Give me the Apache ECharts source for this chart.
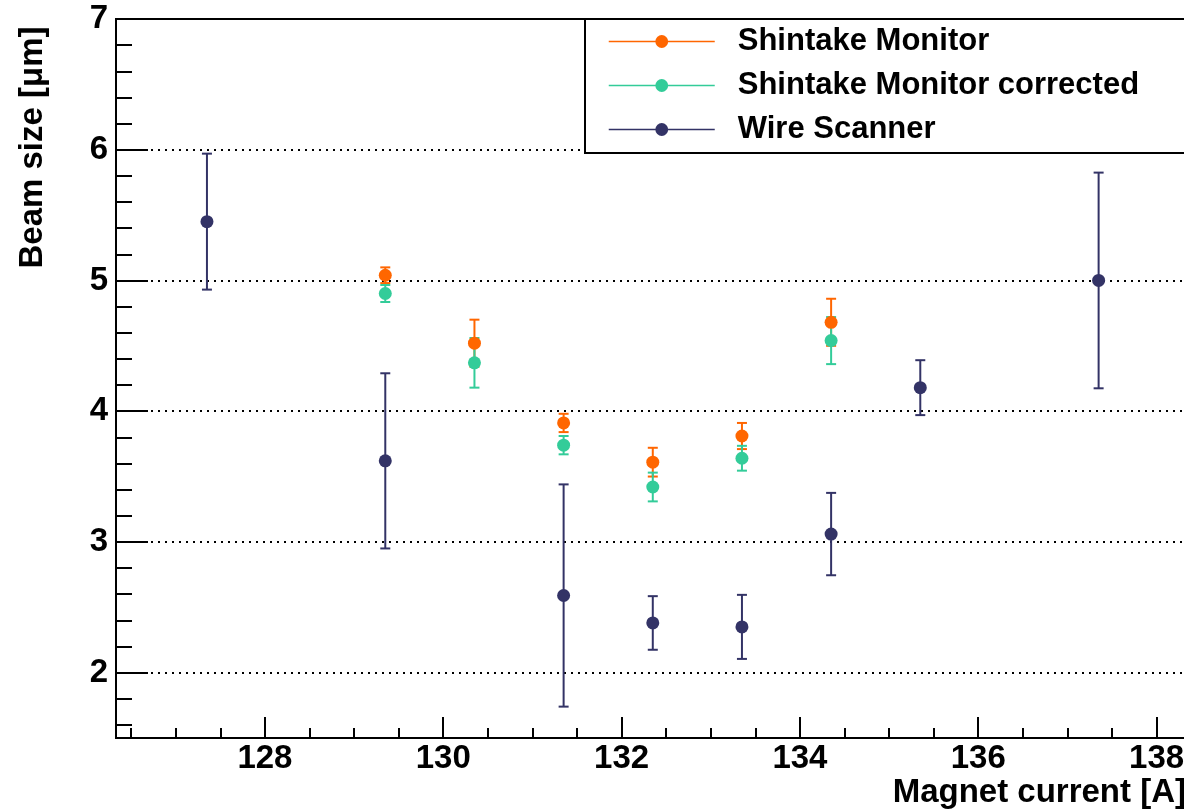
<!DOCTYPE html>
<html>
<head>
<meta charset="utf-8">
<script src="https://cdn.jsdelivr.net/npm/echarts@6/dist/echarts.min.js"></script>
<style>html,body{margin:0;padding:0;background:#fff}#chart{width:1184px;height:810px}</style>
</head>
<body>
<div id="chart"></div>
<script>
// Shintake Monitor
var smX = [129.35, 130.35, 131.35, 132.35, 133.35, 134.35];
var smY = [5.04, 4.52, 3.91, 3.61, 3.81, 4.68];
var smErr = [0.06, 0.18, 0.07, 0.11, 0.10, 0.18];
// Shintake Monitor corrected
var smcY = [4.90, 4.37, 3.74, 3.42, 3.64, 4.54];
var smcErr = [0.065, 0.19, 0.07, 0.11, 0.095, 0.18];
// Wire Scanner
var wsX = [127.35, 129.35, 131.35, 132.35, 133.35, 134.35, 135.35, 137.35];
var wsY = [5.45, 3.62, 2.59, 2.38, 2.35, 3.06, 4.18, 5.00];
var wsErr = [0.52, 0.67, 0.85, 0.205, 0.245, 0.315, 0.21, 0.825];
// ticks
var xMajor = [128, 130, 132, 134, 136, 138];
var yMajor = [2, 3, 4, 5, 6, 7];

var xMinor = [];
for (var i = 1; i <= 23; i++) {
  var v = 126 + i * 0.5;
  if (xMajor.indexOf(v) < 0) xMinor.push(v);
}
var yMinor = [];
for (var j = 8; j <= 34; j++) {
  var w = Math.round(j * 2) / 10;
  if (yMajor.indexOf(w) < 0) yMinor.push(w);
}

var FONT = 'Liberation Sans, Arial, sans-serif';
var cOrange = '#ff6600', cGreen = '#33cc99', cNavy = '#333366';

function pts(xs, ys) { return xs.map(function (x, k) { return [x, ys[k]]; }); }
function errs(xs, ys, es) { return xs.map(function (x, k) { return [x, ys[k], es[k]]; }); }

function errorBars(name, data, color) {
  return {
    type: 'custom', name: name, data: data, silent: true,
    encode: {x: 0, y: 1},
    renderItem: function (params, api) {
      var x = api.value(0), y = api.value(1), e = api.value(2);
      var top = api.coord([x, y + e]);
      var bot = api.coord([x, y - e]);
      var st = {stroke: color, lineWidth: 2};
      return {
        type: 'group',
        children: [
          {type: 'line', shape: {x1: top[0], y1: top[1], x2: bot[0], y2: bot[1]}, style: st},
          {type: 'line', shape: {x1: top[0] - 5, y1: top[1], x2: top[0] + 5, y2: top[1]}, style: st},
          {type: 'line', shape: {x1: bot[0] - 5, y1: bot[1], x2: bot[0] + 5, y2: bot[1]}, style: st}
        ]
      };
    }
  };
}
function markers(name, data, color) {
  return {
    type: 'line', name: name, data: data,
    symbol: 'circle', symbolSize: 13, showSymbol: true,
    itemStyle: {color: color},
    lineStyle: {color: color, opacity: 0},
    emphasis: {disabled: true}
  };
}

var chart = echarts.init(document.getElementById('chart'));
var option = {
  animation: false,
  backgroundColor: '#fff',
  textStyle: {fontFamily: FONT},
  grid: {left: 116, right: -2, top: 19, bottom: 72, show: true, borderColor: '#000', borderWidth: 2,
         outerBoundsMode: 'none', containLabel: false},
  legend: {
    orient: 'vertical', left: 585, top: 19,
    data: ['Shintake Monitor', 'Shintake Monitor corrected', 'Wire Scanner'],
    itemWidth: 106, itemHeight: 16, itemGap: 13,
    padding: [7, 300, 8, 23],
    backgroundColor: '#fff', borderColor: '#000', borderWidth: 2,
    lineStyle: {opacity: 1, width: 1.5},
    textStyle: {fontFamily: FONT, fontWeight: 'bold', fontSize: 31, color: '#000', padding: [0, 0, 0, 18]}
  },
  xAxis: [{
    type: 'value', min: 126.33, max: 138.33, position: 'bottom',
    name: 'Magnet current [A]', nameLocation: 'end', nameGap: 0, nameMoveOverlap: false,
    nameTextStyle: {fontFamily: FONT, fontWeight: 'bold', fontSize: 33, color: '#000',
                    align: 'right', verticalAlign: 'top', padding: [38, 0, 0, 0]},
    axisLine: {lineStyle: {color: '#000', width: 2}},
    axisTick: {inside: true, length: 21, lineStyle: {color: '#000', width: 2}, customValues: xMajor},
    axisLabel: {margin: 4, fontFamily: FONT, fontWeight: 'bold', fontSize: 33, color: '#000', customValues: xMajor},
    splitLine: {show: false}
  }, {
    type: 'value', min: 126.33, max: 138.33, position: 'bottom',
    axisLine: {show: false},
    axisTick: {inside: true, length: 10, lineStyle: {color: '#000', width: 2}, customValues: xMinor},
    axisLabel: {show: false},
    splitLine: {show: false}
  }],
  yAxis: [{
    type: 'value', min: 1.5, max: 7, position: 'left',
    name: 'Beam size [\u03bcm]', nameLocation: 'middle', nameRotate: 90, nameGap: 67, nameMoveOverlap: false,
    nameTextStyle: {fontFamily: FONT, fontWeight: 'bold', fontSize: 33, color: '#000', padding: [0, 0, 0, 462]},
    axisLine: {show: true, lineStyle: {color: '#000', width: 2}},
    axisTick: {show: true, inside: true, length: 32, lineStyle: {color: '#000', width: 2}, customValues: yMajor},
    axisLabel: {margin: 8, fontFamily: FONT, fontWeight: 'bold', fontSize: 33, color: '#000', customValues: yMajor},
    splitLine: {show: true, lineStyle: {color: '#000', width: 2, type: [2, 5]}}
  }, {
    type: 'value', min: 1.5, max: 7, position: 'left',
    axisLine: {show: false},
    axisTick: {show: true, inside: true, length: 16, lineStyle: {color: '#000', width: 2}, customValues: yMinor},
    axisLabel: {show: false},
    splitLine: {show: false}
  }],
  series: [
    errorBars('sm-err', errs(smX, smY, smErr), cOrange),
    markers('Shintake Monitor', pts(smX, smY), cOrange),
    errorBars('smc-err', errs(smX, smcY, smcErr), cGreen),
    markers('Shintake Monitor corrected', pts(smX, smcY), cGreen),
    errorBars('ws-err', errs(wsX, wsY, wsErr), cNavy),
    markers('Wire Scanner', pts(wsX, wsY), cNavy)
  ]
};
chart.setOption(option);
</script>
</body>
</html>
